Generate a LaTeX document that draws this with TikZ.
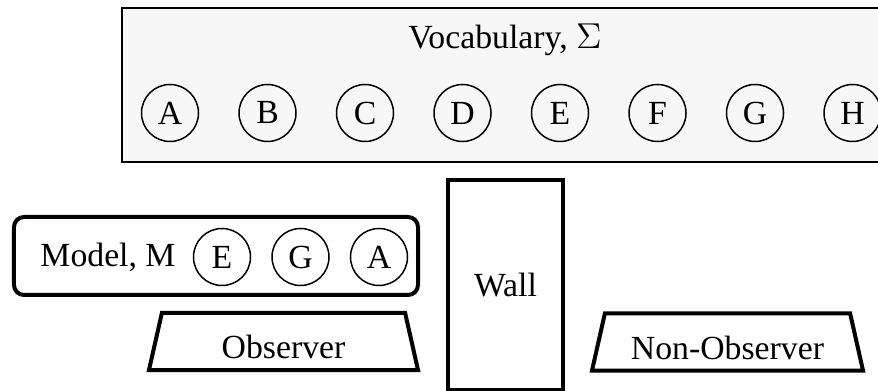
\documentclass[tikz,border=0pt]{standalone}
\usepackage{fontspec}
\setmainfont{Liberation Serif}
\usetikzlibrary{positioning, shapes.geometric}

\begin{document}
\begin{tikzpicture}[
        x=0.4pt, y=-0.4pt,
        node distance=15.6pt,
        every node/.style={align=center, font=\fontsize{13.5}{16}\selectfont},
        vocab/.style={draw, line width=0.8pt, fill=gray!6, minimum width=306.4pt, minimum height=61.6pt},
        sym/.style={draw, circle, line width=0.6pt, minimum size=22.8pt, inner sep=0pt},
        model/.style={draw, rounded corners=4pt, line width=1.6pt, minimum width=161.6pt, minimum height=31.2pt},
        agent/.style={draw, trapezium, trapezium left angle=76, trapezium right angle=76, trapezium stretches body=true,
                      line width=1.6pt, minimum height=22.8pt, text height=14pt, text depth=0pt},
        wall/.style={draw, line width=1.6pt, minimum width=46pt, minimum height=84pt}
    ]
    \useasboundingbox (0,0) rectangle (878,391);

    % Vocabulary
    \node[vocab] (vocab) at (505,85) {};
    \node (vtitle) at (505,40) {Vocabulary, $\Sigma$};
    \node[sym] (va) at (170,113) {A};
    \node[sym, right=of va] (vb) {B};
    \node[sym, right=of vb] (vc) {C};
    \node[sym, right=of vc] (vd) {D};
    \node[sym, right=of vd] (ve) {E};
    \node[sym, right=of ve] (vf) {F};
    \node[sym, right=of vf] (vg) {G};
    \node[sym, right=of vg] (vh) {H};

    % Model
    \node[model] (model) at (216,256) {};
    \node (mtitle) at (108,257) {Model, M};
    \node[sym] (me) at (222,257) {E};
    \node[sym, right=8pt of me] (mg) {G};
    \node[sym, right=8pt of mg] (ma) {A};

    % Observers and wall
    \node[agent, minimum width=107.6pt] (obs) at (283.5,341.5) {Observer};
    \node[wall] (wall) at (505.5,285) {Wall};
    \node[agent, minimum width=108.4pt] (nobs) at (727.5,342) {Non-Observer};

\end{tikzpicture}
\end{document}
